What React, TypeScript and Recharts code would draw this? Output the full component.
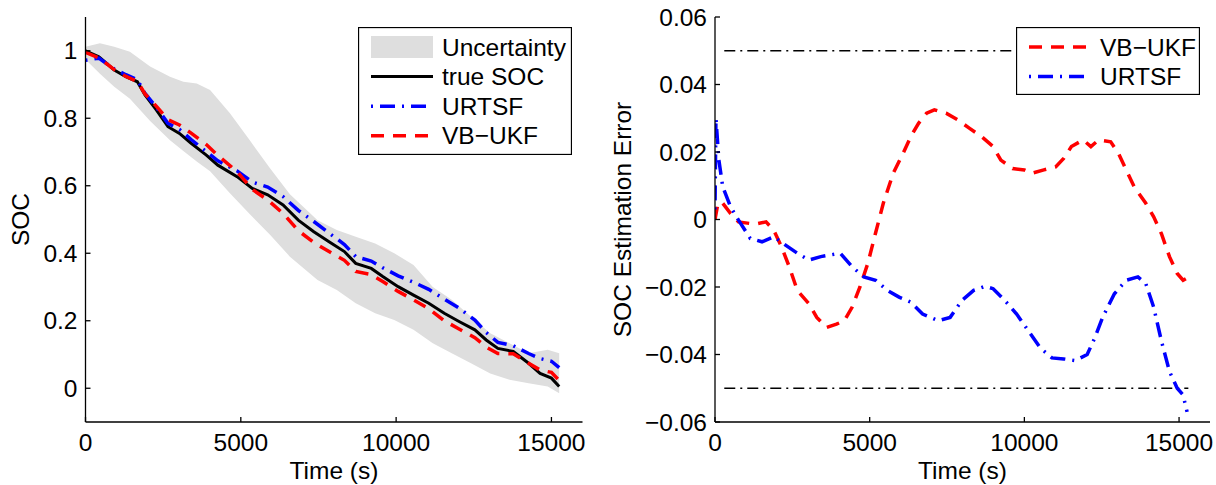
import React from 'react';
import { ComposedChart, Line, Area, XAxis, YAxis, Legend } from 'recharts';

const FONT = '"Liberation Sans", Arial, Helvetica, sans-serif';
const FS = 24.5;
const BAND = '#dedede';

// SOC traces, sampled on a shared time grid (s)
const socTime = [0, 430, 925, 1300, 1670, 1915, 2285, 2655, 3025, 3400, 3890, 4260, 4880, 5370, 5865, 6360, 6850, 7350, 7840, 8335, 8700, 9200, 9570, 10065, 10560, 11050, 11550, 12040, 12535, 12900, 13275, 13770, 14265, 14635, 15000, 15250];
const trueSoc = [1.0, 0.982, 0.943, 0.923, 0.908, 0.869, 0.824, 0.775, 0.755, 0.726, 0.691, 0.661, 0.627, 0.592, 0.573, 0.543, 0.498, 0.464, 0.434, 0.405, 0.37, 0.355, 0.331, 0.301, 0.276, 0.252, 0.222, 0.197, 0.173, 0.143, 0.118, 0.109, 0.074, 0.044, 0.03, 0.005];
const urtsfSoc = [0.972, 0.978, 0.946, 0.929, 0.914, 0.874, 0.832, 0.785, 0.767, 0.737, 0.701, 0.674, 0.644, 0.611, 0.596, 0.568, 0.527, 0.494, 0.46, 0.426, 0.39, 0.377, 0.357, 0.333, 0.314, 0.293, 0.264, 0.237, 0.202, 0.165, 0.136, 0.126, 0.103, 0.088, 0.08, 0.061];
const vbukfSoc = [0.995, 0.979, 0.944, 0.924, 0.909, 0.872, 0.835, 0.796, 0.78, 0.756, 0.722, 0.69, 0.642, 0.589, 0.558, 0.518, 0.467, 0.432, 0.405, 0.379, 0.346, 0.337, 0.316, 0.287, 0.262, 0.236, 0.2, 0.175, 0.15, 0.122, 0.103, 0.102, 0.074, 0.054, 0.047, 0.023];

// uncertainty envelope
const bandTime = [0, 465, 925, 1430, 2080, 2720, 3150, 3580, 4010, 4650, 5300, 5940, 6580, 7470, 8090, 8700, 9325, 9940, 10560, 11180, 11790, 12410, 13030, 13650, 14265, 14880, 15250];
const bandLow = [0.974, 0.932, 0.893, 0.858, 0.792, 0.735, 0.703, 0.672, 0.643, 0.578, 0.515, 0.455, 0.39, 0.321, 0.291, 0.252, 0.222, 0.202, 0.173, 0.133, 0.104, 0.074, 0.044, 0.025, 0.015, 0.005, -0.015];
const bandHigh = [1.012, 1.022, 1.012, 0.997, 0.953, 0.923, 0.908, 0.903, 0.884, 0.815, 0.733, 0.652, 0.575, 0.498, 0.469, 0.449, 0.429, 0.4, 0.365, 0.3, 0.262, 0.212, 0.163, 0.133, 0.104, 0.114, 0.104];

// estimation errors
const vbukfErrTime = [0, 100, 250, 500, 760, 1140, 1390, 1650, 1900, 2150, 2400, 2660, 3040, 3290, 3600, 3925, 4180, 4430, 4685, 4940, 5190, 5440, 5760, 6080, 6330, 6580, 6840, 7090, 7470, 7850, 8230, 8610, 8990, 9240, 9620, 10000, 10250, 10630, 11010, 11270, 11520, 11900, 12150, 12400, 12790, 13040, 13290, 13550, 13925, 14180, 14430, 14690, 14940, 15130, 15320];
const vbukfErr = [0.0, 0.005, 0.0048, 0.0018, -0.0007, -0.0012, -0.0012, -0.0007, -0.0032, -0.0081, -0.014, -0.021, -0.025, -0.029, -0.032, -0.031, -0.03, -0.026, -0.02, -0.013, -0.004, 0.0048, 0.0137, 0.0196, 0.0246, 0.0285, 0.0315, 0.0325, 0.0315, 0.0295, 0.027, 0.0246, 0.0216, 0.0176, 0.0151, 0.0147, 0.0137, 0.0147, 0.0156, 0.0181, 0.0216, 0.0236, 0.0216, 0.0236, 0.023, 0.0196, 0.0147, 0.0097, 0.0048, 0.0008, -0.0042, -0.011, -0.016, -0.018, -0.017];
const urtsfErrTime = [0, 30, 125, 250, 500, 760, 1140, 1520, 1900, 2280, 2660, 3040, 3420, 3670, 4050, 4430, 4810, 5190, 5570, 5950, 6330, 6710, 7220, 7600, 7980, 8360, 8735, 8990, 9370, 9750, 10130, 10510, 10890, 11270, 11650, 12030, 12280, 12530, 12910, 13290, 13670, 13925, 14180, 14430, 14690, 14940, 15130, 15260];
const urtsfErr = [0.003, 0.03, 0.0176, 0.0097, 0.0038, -0.0002, -0.0056, -0.0066, -0.0051, -0.0076, -0.01, -0.012, -0.011, -0.0106, -0.01, -0.014, -0.017, -0.018, -0.021, -0.023, -0.0245, -0.028, -0.03, -0.029, -0.024, -0.021, -0.0198, -0.0205, -0.024, -0.028, -0.033, -0.038, -0.041, -0.0413, -0.0418, -0.04, -0.035, -0.029, -0.022, -0.018, -0.017, -0.019, -0.026, -0.036, -0.045, -0.05, -0.052, -0.057];
const boundTime = [300, 15300];
const errBound = 0.05;

const timeTicks = [0, 5000, 10000, 15000];
const socTicks = [0, 0.2, 0.4, 0.6, 0.8, 1];
const errTicks = [-0.06, -0.04, -0.02, 0, 0.02, 0.04, 0.06];

const socRows = socTime.map((t, i) => ({ t, trueSoc: trueSoc[i], urtsf: urtsfSoc[i], vbukf: vbukfSoc[i] }));
const bandRows = bandTime.map((t, i) => ({ t, band: [bandLow[i], bandHigh[i]] }));
const vbukfRows = vbukfErrTime.map((t, i) => ({ t, err: vbukfErr[i] }));
const urtsfRows = urtsfErrTime.map((t, i) => ({ t, err: urtsfErr[i] }));
const upperRows = boundTime.map((t) => ({ t, v: errBound }));
const lowerRows = boundTime.map((t) => ({ t, v: -errBound }));

const RED = { stroke: '#ff0000', strokeWidth: 3.5, strokeDasharray: '13 9' };
const BLUE = { stroke: '#0000ff', strokeWidth: 3.5, strokeDasharray: '2 7 15 7' };
const BLACK = { stroke: '#000000', strokeWidth: 3 };

const tickStyle = { fill: '#000', fontSize: FS, fontFamily: FONT };
const errFormat = (v: number) => (v === 0 ? '0' : (v < 0 ? '\u2212' : '') + Math.abs(v).toFixed(2));

type LegendEntry = { label: string; band?: boolean; line?: any };

const LegendBox = ({ entries, width, height }: { entries: LegendEntry[]; width: number; height: number }) => (
  <svg width={width} height={height} style={{ display: 'block' }}>
    <rect x={0.5} y={0.5} width={width - 1} height={height - 1} fill="#fff" stroke="#000" strokeWidth={1.3} />
    {entries.map((e, i) => {
      const cy = 20 + i * 29.6;
      return (
        <g key={e.label}>
          {e.band ? (
            <rect x={13} y={cy - 11} width={62} height={22} fill={BAND} />
          ) : (
            <line x1={13} x2={75} y1={cy} y2={cy} {...e.line} />
          )}
          <text x={84} y={cy} dominantBaseline="central" fontSize={FS} fontFamily={FONT} fill="#000">
            {e.label}
          </text>
        </g>
      );
    })}
  </svg>
);

const yTitle = (text: string, x: number) => () => (
  <text x={x} y={219.5} transform={`rotate(-90 ${x} 219.5)`} textAnchor="middle" dominantBaseline="central" fontSize={FS} fontFamily={FONT} fill="#000">
    {text}
  </text>
);

const xTitle = (x: number) => () => (
  <text x={x} y={470} textAnchor="middle" dominantBaseline="central" fontSize={FS} fontFamily={FONT} fill="#000">
    Time (s)
  </text>
);

// box frame: mirrored top/right axes with inward ticks and no labels
const frame = (yDomain: number[], yTicks: number[]) => [
  <XAxis key="xt" xAxisId="top" orientation="top" type="number" dataKey="t" domain={[0, 16000]} ticks={timeTicks} allowDataOverflow height={0} tickSize={-5} tickFormatter={() => ''} stroke="#000" strokeWidth={1.3} />,
  <YAxis key="yr" yAxisId="right" orientation="right" type="number" domain={yDomain} ticks={yTicks} allowDataOverflow width={0} tickSize={-5} tickFormatter={() => ''} stroke="#000" strokeWidth={1.3} />,
];

const SocChart = () => (
  <ComposedChart width={600} height={485} margin={{ top: 17, right: 17.5, left: 25.5, bottom: 33 }}>
    <XAxis dataKey="t" type="number" domain={[0, 16000]} ticks={timeTicks} allowDataOverflow height={30} tickSize={-5} tickMargin={17} tick={tickStyle} stroke="#000" strokeWidth={1.3} label={xTitle(334)} />
    <YAxis type="number" domain={[-0.1, 1.1]} ticks={socTicks} allowDataOverflow width={60} tickSize={-5} tickMargin={13} tick={tickStyle} tickFormatter={(v: number) => String(v)} stroke="#000" strokeWidth={1.3} label={yTitle('SOC', 20.5)} />
    {frame([-0.1, 1.1], socTicks)}
    <Area data={bandRows} dataKey="band" type="linear" fill={BAND} fillOpacity={1} stroke="none" isAnimationActive={false} />
    <Line data={socRows} dataKey="trueSoc" type="linear" dot={false} {...BLACK} isAnimationActive={false} />
    <Line data={socRows} dataKey="urtsf" type="linear" dot={false} {...BLUE} isAnimationActive={false} />
    <Line data={socRows} dataKey="vbukf" type="linear" dot={false} {...RED} isAnimationActive={false} />
    <Legend
      layout="horizontal"
      verticalAlign="middle"
      align="center"
      wrapperStyle={{ left: 358, top: 27, width: 214, height: 128 }}
      content={() => (
        <LegendBox
          width={214}
          height={128}
          entries={[
            { label: 'Uncertainty', band: true },
            { label: 'true SOC', line: BLACK },
            { label: 'URTSF', line: BLUE },
            { label: 'VB\u2212UKF', line: RED },
          ]}
        />
      )}
    />
  </ComposedChart>
);

const ErrorChart = () => (
  <ComposedChart width={616} height={485} margin={{ top: 17, right: 6, left: 15, bottom: 33 }}>
    <XAxis dataKey="t" type="number" domain={[0, 16000]} ticks={timeTicks} allowDataOverflow height={30} tickSize={-5} tickMargin={17} tick={tickStyle} stroke="#000" strokeWidth={1.3} label={xTitle(362.5)} />
    <YAxis type="number" domain={[-0.06, 0.06]} ticks={errTicks} allowDataOverflow width={100} tickSize={-5} tickMargin={13} tick={tickStyle} tickFormatter={errFormat} stroke="#000" strokeWidth={1.3} label={yTitle('SOC Estimation Error', 22)} />
    {frame([-0.06, 0.06], errTicks)}
    <Line data={upperRows} dataKey="v" type="linear" dot={false} stroke="#000" strokeWidth={1.3} strokeDasharray="11 5 2 5" isAnimationActive={false} />
    <Line data={lowerRows} dataKey="v" type="linear" dot={false} stroke="#000" strokeWidth={1.3} strokeDasharray="11 5 2 5" isAnimationActive={false} />
    <Line data={vbukfRows} dataKey="err" type="linear" dot={false} {...RED} isAnimationActive={false} />
    <Line data={urtsfRows} dataKey="err" type="linear" dot={false} {...BLUE} isAnimationActive={false} />
    <Legend
      layout="horizontal"
      verticalAlign="middle"
      align="center"
      wrapperStyle={{ left: 416, top: 27, width: 184, height: 68 }}
      content={() => (
        <LegendBox
          width={184}
          height={68}
          entries={[
            { label: 'VB\u2212UKF', line: RED },
            { label: 'URTSF', line: BLUE },
          ]}
        />
      )}
    />
  </ComposedChart>
);

export default function App() {
  return (
    <div style={{ position: 'absolute', left: 0, top: 0, width: 1216, height: 485, background: '#fff' }}>
      <div style={{ position: 'absolute', left: 0, top: 0 }}>
        <SocChart />
      </div>
      <div style={{ position: 'absolute', left: 600, top: 0 }}>
        <ErrorChart />
      </div>
    </div>
  );
}
